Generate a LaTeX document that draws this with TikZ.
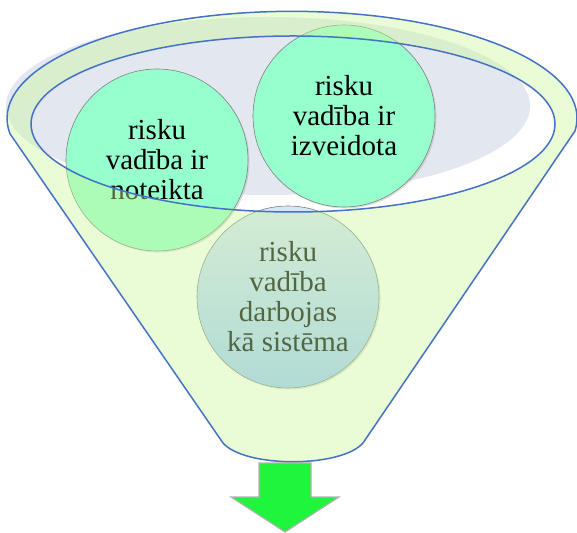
\documentclass[tikz,border=0pt]{standalone}
\usepackage{fontspec}
\setmainfont{Liberation Serif}
\usetikzlibrary{positioning,shadows}
\definecolor{rimblue}{RGB}{68,114,196}
\definecolor{funnelgreen}{RGB}{204,248,155}
\definecolor{bowlgrey}{RGB}{227,231,240}
\definecolor{ballgreen}{RGB}{150,255,205}
\definecolor{balltop}{RGB}{218,228,253}
\definecolor{ballbottom}{RGB}{160,200,255}
\definecolor{arrowgreen}{RGB}{30,245,60}
\tikzset{ball/.style={circle,minimum size=182pt,inner sep=0pt,draw=gray,line width=.6pt,
  fill=ballgreen,align=center,font=\fontsize{29}{30}\selectfont,
  drop shadow={opacity=.25,shadow xshift=1.5pt,shadow yshift=-1.5pt}}}

\begin{document}
\begin{tikzpicture}[x=1pt,y=1pt]
\useasboundingbox (0,0) rectangle (577,532);
\coordinate (rim) at (292,414);
\coordinate (hole) at (293,408);
\coordinate (R) at (575,401);
\coordinate (BL) at (223,89);
\coordinate (BR) at (363,89);
\fill[bowlgrey] (268,426) ellipse[x radius=262,y radius=89];
\draw[gray!60,fill=arrowgreen,line width=1.2pt] (259,69) -- (311,69) -- (311,35) -- (339,35)
  -- (285,0) -- (231,35) -- (259,35) -- cycle;
\node[ball] (defined) at (157,372) {risku\\vadība ir\\noteikta};
\node[ball] (created) at (344,416) {risku\\vadība ir\\izveidota};
\node[ball,top color=balltop,bottom color=ballbottom] (system) at (288,235)
  {risku\\vadība\\darbojas\\kā sistēma};
\fill[funnelgreen,fill opacity=.41,even odd rule] (R)
  arc[start angle=-6.8,end angle=188.3,x radius=285,y radius=107] -- (BL)
  .. controls (245,64) and (341,64) .. (BR) -- cycle
  (hole) ellipse[x radius=262,y radius=88];
\draw[rimblue,line width=1.5pt] (R)
  arc[start angle=-6.8,end angle=188.3,x radius=285,y radius=107] -- (BL)
  .. controls (245,64) and (341,64) .. (BR) -- cycle
  (hole) ellipse[x radius=262,y radius=88];
\end{tikzpicture}
\end{document}
